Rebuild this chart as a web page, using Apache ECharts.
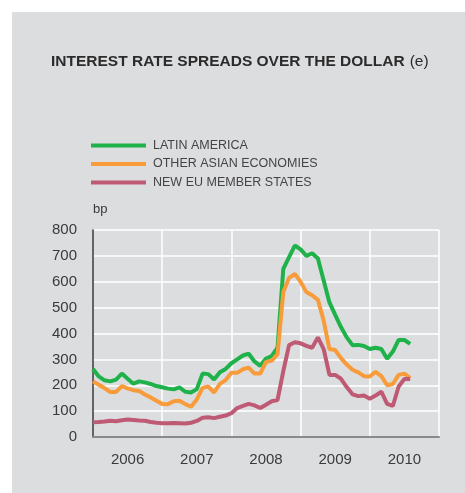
<!DOCTYPE html>
<html>
<head>
<meta charset="utf-8">
<script src="https://cdn.jsdelivr.net/npm/echarts@6/dist/echarts.min.js"></script>
<style>
  html, body { margin: 0; padding: 0; background: #fff; }
  #panel { position: absolute; left: 12px; top: 12px; width: 453px; height: 481px; background: #dcdddf; }
  #chart { width: 453px; height: 481px; }
</style>
</head>
<body>
<div id="panel"><div id="chart"></div></div>
<script>
// years shown under the axis
var years = ['2006', '2007', '2008', '2009', '2010'];
// monthly spreads in bp, from Jan 2006
var latinAmerica = [263, 234, 219, 215, 222, 245, 225, 206, 215, 211, 205, 197,
  192, 187, 184, 192, 175, 172, 185, 245, 243, 222, 250, 263,
  285, 300, 315, 322, 292, 275, 303, 313, 345, 650, 695, 740,
  725, 700, 710, 690, 605, 520, 472, 425, 385, 355, 356, 352,
  340, 345, 340, 302, 330, 375, 375, 360];
var otherAsian = [215, 202, 189, 174, 174, 197, 188, 181, 178, 164, 153, 140,
  128, 127, 138, 140, 127, 117, 145, 190, 195, 172, 205, 220,
  248, 248, 262, 268, 245, 245, 290, 295, 320, 560, 615, 630,
  600, 560, 548, 530, 450, 340, 336, 305, 280, 260, 250, 235,
  234, 252, 235, 200, 205, 240, 245, 228];
var newEU = [57, 58, 60, 63, 61, 65, 68, 66, 64, 63, 58, 55,
  53, 53, 54, 53, 52, 55, 62, 74, 76, 73, 78, 83,
  92, 112, 120, 128, 122, 112, 125, 138, 143, 255, 355, 366,
  362, 352, 345, 385, 340, 240, 240, 225, 193, 165, 158, 160,
  148, 160, 175, 128, 120, 195, 224, 224];

function toPoints(arr) {
  return arr.map(function (v, i) { return [i, v]; });
}

var myChart = echarts.init(document.getElementById('chart'));
var font = 'Liberation Sans, Arial, sans-serif';

var option = {
  animation: false,
  textStyle: { fontFamily: font },
  title: {
    text: '{b|INTEREST RATE SPREADS OVER THE DOLLAR} {n|(e)}',
    left: 34,
    top: 36,
    textStyle: {
      rich: {
        b: { fontSize: 15.5, fontWeight: 'bold', color: '#2b2b2b', fontFamily: font },
        n: { fontSize: 15.5, fontWeight: 'normal', color: '#2b2b2b', fontFamily: font }
      }
    }
  },
  legend: {
    orient: 'vertical',
    left: 79,
    top: 127,
    padding: 0,
    icon: 'rect',
    itemWidth: 55,
    itemHeight: 4,
    itemGap: 5.5,
    textStyle: { fontSize: 12.5, color: '#444', padding: [0, 0, 0, 2] },
    data: ['LATIN AMERICA', 'OTHER ASIAN ECONOMIES', 'NEW EU MEMBER STATES']
  },
  grid: { left: 81, right: 26, top: 218, bottom: 56 },
  xAxis: [{
    type: 'value',
    min: 0,
    max: 60,
    interval: 12,
    axisLine: { show: true, lineStyle: { color: '#8a8a8a', width: 2 } },
    axisTick: { show: false },
    axisLabel: { show: false },
    splitLine: { show: true, lineStyle: { color: '#ffffff', width: 1.5 } }
  }, {
    type: 'category',
    position: 'bottom',
    data: years,
    boundaryGap: true,
    axisLine: { show: false },
    axisTick: { show: false },
    splitLine: { show: false },
    axisLabel: { fontSize: 15, color: '#3a3a3a', margin: 15 }
  }],
  yAxis: {
    type: 'value',
    min: 0,
    max: 800,
    interval: 100,
    name: 'bp',
    nameLocation: 'end',
    nameGap: 14,
    nameTextStyle: { fontSize: 13, color: '#3a3a3a', align: 'left' },
    axisLine: { show: true, lineStyle: { color: '#333', width: 1.5 } },
    axisTick: { show: false },
    axisLabel: { fontSize: 15, color: '#3a3a3a', margin: 16 },
    splitLine: { lineStyle: { color: '#ffffff', width: 1.5 } }
  },
  series: [{
    name: 'LATIN AMERICA',
    type: 'line',
    data: toPoints(latinAmerica),
    showSymbol: false,
    itemStyle: { color: '#1fb24a' },
    lineStyle: { color: '#1fb24a', width: 4 }
  }, {
    name: 'OTHER ASIAN ECONOMIES',
    type: 'line',
    data: toPoints(otherAsian),
    showSymbol: false,
    itemStyle: { color: '#f89b3a' },
    lineStyle: { color: '#f89b3a', width: 4 }
  }, {
    name: 'NEW EU MEMBER STATES',
    type: 'line',
    data: toPoints(newEU),
    showSymbol: false,
    itemStyle: { color: '#bf5a75' },
    lineStyle: { color: '#bf5a75', width: 4 }
  }]
};

myChart.setOption(option);
window.addEventListener('resize', function () {
  myChart.resize();
});
</script>
</body>
</html>
